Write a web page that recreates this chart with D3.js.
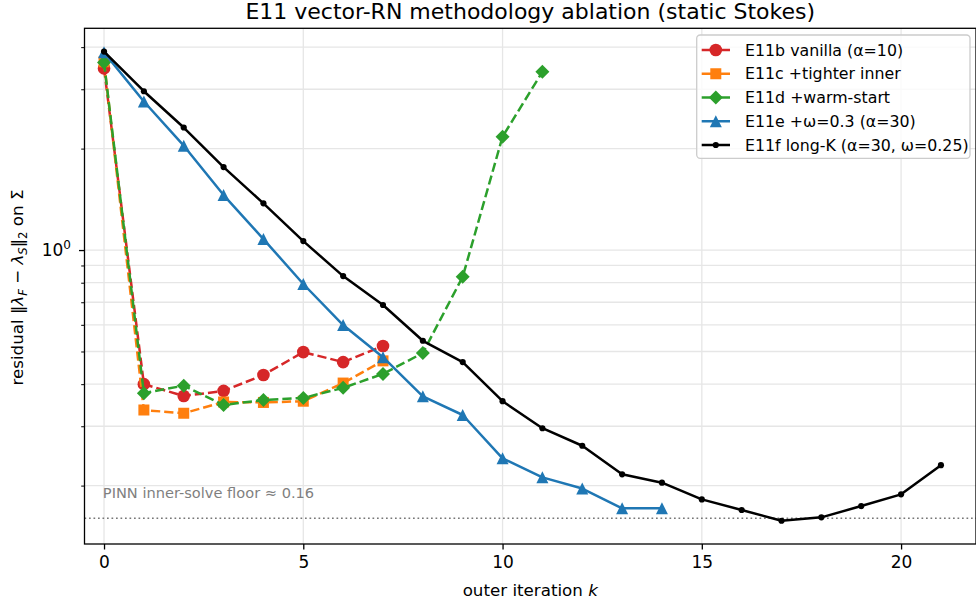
<!DOCTYPE html>
<html>
<head>
<meta charset="utf-8">
<script src="https://cdn.jsdelivr.net/npm/d3@7"></script>
<style>
  body { margin: 0; background: #ffffff; }
  text { font-family: "DejaVu Sans", sans-serif; }
</style>
</head>
<body>
<svg id="chart" width="976" height="605"></svg>
<script>
// Residual per outer iteration for each ablation run
const vanilla = [3.46, 0.400, 0.369, 0.382, 0.426, 0.498, 0.465, 0.519];
const tighterInner = [3.62, 0.335, 0.328, 0.354, 0.353, 0.356, 0.403, 0.469];
const warmStart = [3.60, 0.376, 0.396, 0.347, 0.359, 0.364, 0.390, 0.429, 0.495, 0.833, 2.17, 3.38];
const relaxed = [3.86, 2.76, 2.04, 1.456, 1.078, 0.793, 0.599, 0.481, 0.368, 0.324, 0.241, 0.2116, 0.196, 0.1713, 0.1713];
const longK = [3.88, 2.96, 2.31, 1.763, 1.376, 1.063, 0.837, 0.687, 0.538, 0.465, 0.356, 0.296, 0.2626, 0.216, 0.204, 0.182, 0.1693, 0.1573, 0.1610, 0.1739, 0.1884, 0.230];

const seriesNames = [
  "E11b vanilla (α=10)",
  "E11c +tighter inner",
  "E11d +warm-start",
  "E11e +ω=0.3 (α=30)",
  "E11f long-K (α=30, ω=0.25)"
];
const seriesColors = ["#d62728", "#ff7f0e", "#2ca02c", "#1f77b4", "#000000"];
const seriesMarkers = ["circle", "square", "diamond", "triangle", "dot"];
const seriesDashed = [true, true, true, false, false];

const xTickValues = [0, 5, 10, 15, 20];
const yMajorTicks = [1];
const yMinorTicks = [0.2, 0.3, 0.4, 0.5, 0.6, 0.7, 0.8, 0.9, 2, 3, 4];
const floorValue = 0.16;
const floorLabel = "PINN inner-solve floor ≈ 0.16";

const allSeries = [vanilla, tighterInner, warmStart, relaxed, longK];

// Layout
const plot = { left: 84.5, top: 28.3, right: 976, bottom: 544 };

const svg = d3.select("#chart");

const x = d3.scaleLinear().domain([-0.49, 21.88]).range([plot.left, plot.right]);
const y = d3.scaleLog().domain([0.1342, 4.55]).range([plot.bottom, plot.top]);

// Clip region for data
svg.append("defs").append("clipPath").attr("id", "plotClip")
  .append("rect")
  .attr("x", plot.left).attr("y", plot.top)
  .attr("width", plot.right - plot.left).attr("height", plot.bottom - plot.top);

// Grid
const grid = svg.append("g").attr("class", "grid");
grid.selectAll("line.vx").data(xTickValues).join("line")
  .attr("x1", d => x(d)).attr("x2", d => x(d))
  .attr("y1", plot.top).attr("y2", plot.bottom)
  .attr("stroke", "#e6e6e6").attr("stroke-width", 1.3);
grid.selectAll("line.hy").data(yMajorTicks.concat(yMinorTicks)).join("line")
  .attr("x1", plot.left).attr("x2", plot.right)
  .attr("y1", d => y(d)).attr("y2", d => y(d))
  .attr("stroke", "#e6e6e6").attr("stroke-width", 1.3);

// Floor reference line
svg.append("line")
  .attr("x1", plot.left).attr("x2", plot.right)
  .attr("y1", y(floorValue)).attr("y2", y(floorValue))
  .attr("stroke", "#777777").attr("stroke-width", 1.5)
  .attr("stroke-dasharray", "1.7,2.8");

svg.append("text")
  .attr("x", x(-0.03)).attr("y", y(0.1835))
  .attr("font-size", 14.6).attr("fill", "#7f7f7f")
  .text(floorLabel);

// Marker shapes
function markerPath(kind) {
  if (kind === "circle") return d3.symbol(d3.symbolCircle, 125)();
  if (kind === "square") return d3.symbol(d3.symbolSquare, 121)();
  if (kind === "diamond") {
    const r = 7;
    return `M0,${-r}L${r},0L0,${r}L${-r},0Z`;
  }
  if (kind === "triangle") {
    const h = 6;
    return `M0,${-h}L${h},${h}L${-h},${h}Z`;
  }
  return d3.symbol(d3.symbolCircle, 30)();
}

const line = d3.line().x((d, i) => x(i)).y(d => y(d));
const dataLayer = svg.append("g").attr("clip-path", "url(#plotClip)");

allSeries.forEach((vals, s) => {
  const g = dataLayer.append("g");
  g.append("path")
    .attr("d", line(vals))
    .attr("fill", "none")
    .attr("stroke", seriesColors[s])
    .attr("stroke-width", 2.5)
    .attr("stroke-linejoin", "round")
    .attr("stroke-dasharray", seriesDashed[s] ? "9.25,4" : null);
  g.selectAll("path.m").data(vals).join("path")
    .attr("class", "m")
    .attr("transform", (d, i) => `translate(${x(i)},${y(d)})`)
    .attr("d", markerPath(seriesMarkers[s]))
    .attr("fill", seriesColors[s]);
});

// Axes
const xAxis = svg.append("g")
  .attr("transform", `translate(0,${plot.bottom})`)
  .call(d3.axisBottom(x).tickValues(xTickValues).tickSize(5.5).tickPadding(6).tickFormat(d3.format("d")));
xAxis.select(".domain").remove();
xAxis.selectAll("text").attr("font-size", 17).attr("fill", "#000").attr("font-family", "DejaVu Sans");
xAxis.selectAll("line").attr("stroke", "#000").attr("stroke-width", 1.3);

const yAxis = svg.append("g")
  .attr("transform", `translate(${plot.left},0)`)
  .call(d3.axisLeft(y).tickValues(yMajorTicks).tickSize(5.5).tickPadding(8).tickFormat(() => ""));
yAxis.select(".domain").remove();
yAxis.selectAll("line").attr("stroke", "#000").attr("stroke-width", 1.3);
yAxis.selectAll(".tick text").each(function (d) {
  const t = d3.select(this);
  t.attr("font-size", 17).attr("fill", "#000").attr("font-family", "DejaVu Sans")
    .attr("x", -13.5).attr("dy", "0.32em");
  t.append("tspan").text("10");
  t.append("tspan").attr("font-size", 12).attr("dy", "-0.55em").text(Math.round(Math.log10(d)));
});

const yMinorAxis = svg.append("g")
  .attr("transform", `translate(${plot.left},0)`)
  .call(d3.axisLeft(y).tickValues(yMinorTicks).tickSize(3.3).tickFormat(() => ""));
yMinorAxis.select(".domain").remove();
yMinorAxis.selectAll("line").attr("stroke", "#000").attr("stroke-width", 1);

// Frame
svg.append("rect")
  .attr("x", plot.left).attr("y", plot.top)
  .attr("width", plot.right - plot.left).attr("height", plot.bottom - plot.top)
  .attr("fill", "none").attr("stroke", "#000").attr("stroke-width", 1.3);

// Title
svg.append("text")
  .attr("x", (plot.left + plot.right) / 2).attr("y", 19)
  .attr("text-anchor", "middle").attr("font-size", 22).attr("fill", "#000")
  .text("E11 vector-RN methodology ablation (static Stokes)");

// X label
const xl = svg.append("text")
  .attr("x", (plot.left + plot.right) / 2).attr("y", 596)
  .attr("text-anchor", "middle").attr("font-size", 16.7).attr("fill", "#000");
xl.append("tspan").text("outer iteration ");
xl.append("tspan").attr("font-style", "italic").text("k");

// Y label
const yl = svg.append("text")
  .attr("transform", "translate(23,287.5) rotate(-90)")
  .attr("text-anchor", "middle").attr("font-size", 16.7).attr("fill", "#000");
yl.append("tspan").text("residual ‖");
yl.append("tspan").attr("font-style", "italic").text("λ");
yl.append("tspan").attr("font-style", "italic").attr("font-size", 11.7).attr("dy", 3.5).text("F");
yl.append("tspan").attr("dy", -3.5).text(" − ");
yl.append("tspan").attr("font-style", "italic").text("λ");
yl.append("tspan").attr("font-style", "italic").attr("font-size", 11.7).attr("dy", 3.5).text("S");
yl.append("tspan").attr("dy", -3.5).text("‖");
yl.append("tspan").attr("font-size", 11.7).attr("dy", 3.5).text("2");
yl.append("tspan").attr("dy", -3.5).text(" on Σ");

// Legend
const legend = svg.append("g");
legend.append("rect")
  .attr("x", 696.7).attr("y", 35).attr("width", 273.3).attr("height", 123.3)
  .attr("rx", 3.5).attr("fill", "#ffffff").attr("fill-opacity", 0.8)
  .attr("stroke", "#cccccc").attr("stroke-width", 1.3);
seriesNames.forEach((name, s) => {
  const cy = 50 + s * 23.75;
  const row = legend.append("g");
  row.append("line")
    .attr("x1", 701.7).attr("x2", 730).attr("y1", cy).attr("y2", cy)
    .attr("stroke", seriesColors[s]).attr("stroke-width", 2.5);
  row.append("path")
    .attr("transform", `translate(715.8,${cy})`)
    .attr("d", markerPath(seriesMarkers[s]))
    .attr("fill", seriesColors[s]);
  row.append("text")
    .attr("x", 745).attr("y", cy).attr("dy", "0.36em")
    .attr("font-size", 15.8).attr("fill", "#000")
    .text(name);
});
</script>
</body>
</html>
